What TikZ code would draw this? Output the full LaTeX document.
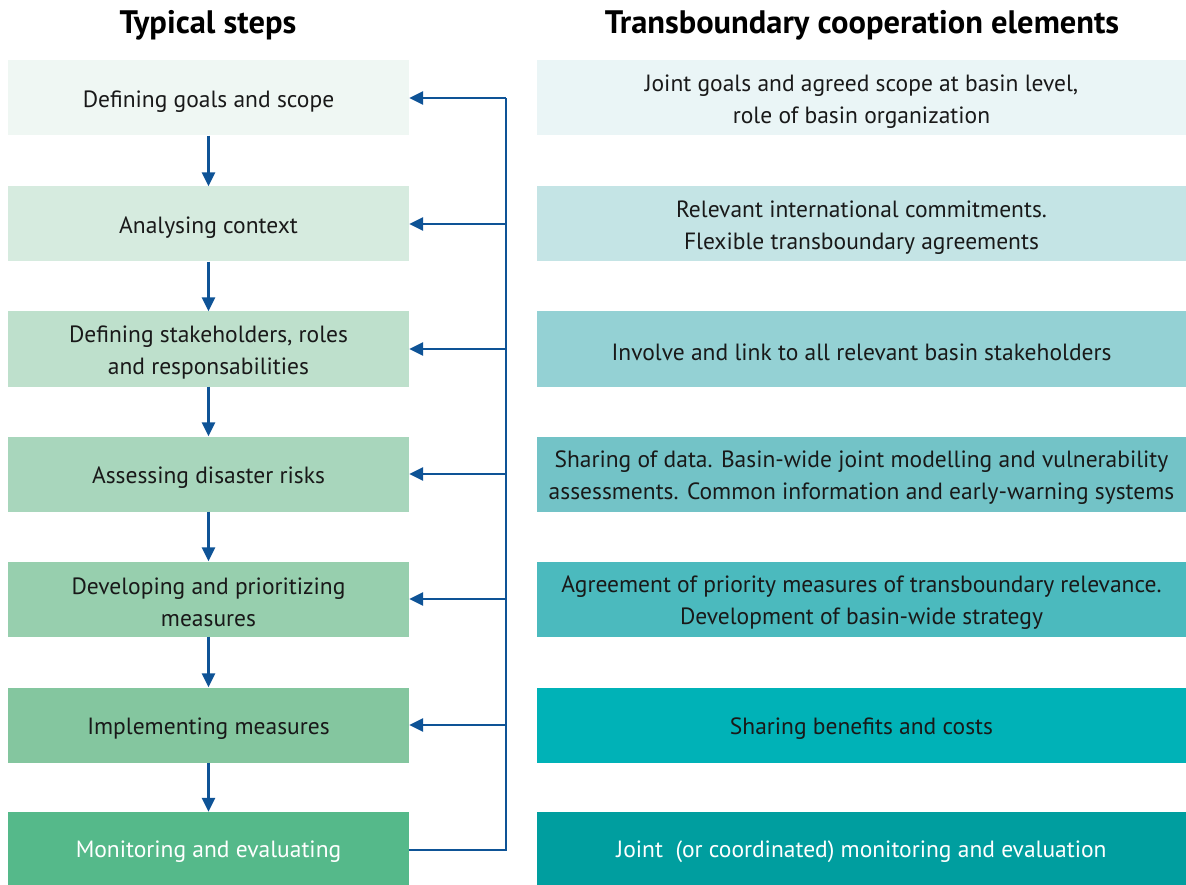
\documentclass[tikz,border=0pt]{standalone}
\usepackage{fontspec}
\setmainfont{PT Sans}
\usetikzlibrary{arrows.meta}
\definecolor{arr}{HTML}{0E5396}
\definecolor{lA}{HTML}{EFF7F3}
\definecolor{lB}{HTML}{D6EBDF}
\definecolor{lC}{HTML}{BEE0CC}
\definecolor{lD}{HTML}{A8D6BC}
\definecolor{lE}{HTML}{97CFAE}
\definecolor{lF}{HTML}{84C69F}
\definecolor{lG}{HTML}{55B98A}
\definecolor{rA}{HTML}{EAF5F6}
\definecolor{rB}{HTML}{C4E4E5}
\definecolor{rC}{HTML}{94D1D4}
\definecolor{rD}{HTML}{73C3C7}
\definecolor{rE}{HTML}{4BBABE}
\definecolor{rF}{HTML}{00B2B7}
\definecolor{rG}{HTML}{009E9F}
\tikzset{
  boxtext/.style={align=center, inner sep=0pt, font=\fontsize{23.5}{31.5}\selectfont, text=black!90, yshift=-3.5pt},
  stepbox/.style={draw=none, minimum width=401pt, minimum height=75pt, inner sep=0pt},
  elembox/.style={draw=none, minimum width=649pt, minimum height=75pt, inner sep=0pt},
  title/.style={font=\fontsize{32.5}{36}\selectfont\bfseries},
  link/.style={draw=arr, line width=2.5pt},
  arrowlink/.style={link, -{Triangle[length=14pt,width=13pt]}},
}
\begin{document}
\begin{tikzpicture}[x=1pt,y=-1pt]
\useasboundingbox (0,0) rectangle (1186,885);
\node[title] (t1) at (208,25) {Typical steps};
\node[title] (t2) at (862,25) {Transboundary cooperation elements};
\foreach \i/\y/\c/\txt in {1/98/lA/{Defining goals and scope},2/224/lB/{Analysing context},3/349/lC/{Defining stakeholders, roles\\and responsabilities},4/474/lD/{Assessing disaster risks},5/599/lE/{Developing and prioritizing\\measures},6/725/lF/{Implementing measures}}
  \node[stepbox, fill=\c, label={[boxtext]center:{\txt}}] (s\i) at (208.5,\y) {};
\node[stepbox, fill=lG, minimum height=73pt, label={[boxtext, text=white]center:{Monitoring and evaluating}}] (s7) at (208.5,848.5) {};
\foreach \i/\y/\c/\txt in {1/98/rA/{Joint goals and agreed scope at basin level,\\role of basin organization},2/224/rB/{Relevant international commitments.\\Flexible transboundary agreements},3/349/rC/{Involve and link to all relevant basin stakeholders},4/474/rD/{Sharing of data. Basin-wide joint modelling and vulnerability\\assessments. Common information and early-warning systems},5/599/rE/{Agreement of priority measures of transboundary relevance.\\Development of basin-wide strategy},6/725/rF/{Sharing benefits and costs}}
  \node[elembox, fill=\c, label={[boxtext]center:{\txt}}] (e\i) at (861.5,\y) {};
\node[elembox, fill=rG, minimum height=73pt, label={[boxtext, text=white]center:{Joint\ \ (or coordinated) monitoring and evaluation}}] (e7) at (861.5,848.5) {};
% vertical arrows
\foreach \a/\b in {1/2,2/3,3/4,4/5,5/6,6/7}
  \draw[arrowlink] (s\a.south) -- (s\b.north);
% feedback bus
\coordinate (top) at (506,98);
\coordinate (bot) at (506,850);
\draw[link] (s7.east |- bot) -- (bot) -- (top);
\draw[arrowlink] (top) -- (s1.east);
\foreach \i in {2,...,6}
  \draw[arrowlink] (506,0 |- s\i.east) -- (s\i.east);
\end{tikzpicture}
\end{document}
